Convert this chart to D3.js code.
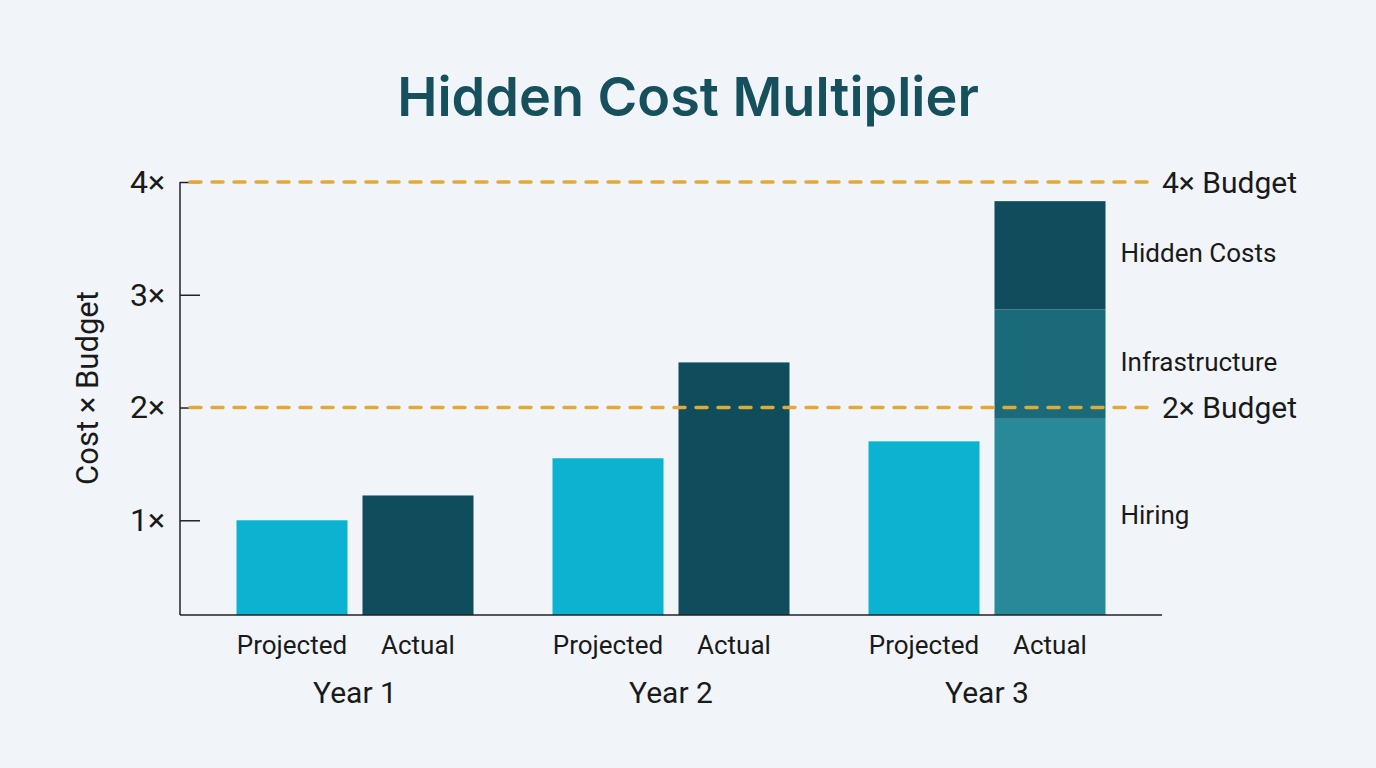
<!DOCTYPE html>
<html>
<head>
<meta charset="utf-8">
<script src="https://cdn.jsdelivr.net/npm/d3@7"></script>
<style>
  body { margin: 0; background: #f1f5f9; }
  svg { display: block; font-family: Roboto, "Noto Sans", sans-serif; }
</style>
</head>
<body>
<svg width="1376" height="768"></svg>
<script>
const years = ["Year 1", "Year 2", "Year 3"]
const kinds = ["Projected", "Actual"]
const projected = [1.0, 1.55, 1.7]
const actual = [1.22, 2.4, null]
// year 3 actual is split up
const parts = ["Hiring", "Infrastructure", "Hidden Costs"]
const partValues = [1.9, 0.97, 0.96]
const refLines = [2, 4]
const refLabels = ["2× Budget", "4× Budget"]
const yTicks = [1, 2, 3, 4]

const svg = d3.select("svg")

const x = d3.scaleBand().domain(years).range([197, 1145])
const xIn = d3.scaleBand().domain(kinds).range([39.5, 276.5]).paddingInner(0.119)
const y = d3.scaleLinear().domain([0.16, 4]).range([615, 182])
const y0 = y.domain()[0]

const colors = {Projected: "#0bb3d1", Actual: "#0f4c5c"}
const partColors = ["#288a99", "#1b6a79", "#0f4c5c"]

svg.append("text").attr("x", 688).attr("y", 116).attr("text-anchor", "middle")
   .attr("font-family", "Inter, Lato, sans-serif").attr("font-weight", 600)
   .attr("font-size", 54).attr("fill", "#16505c").text("Hidden Cost Multiplier")

// bars
const rows = []
years.forEach(function(yr, i){
    rows.push({year: yr, kind: "Projected", v: projected[i]})
    if (actual[i] != null) rows.push({year: yr, kind: "Actual", v: actual[i]})
})
svg.append("g").selectAll("rect").data(rows).enter().append("rect")
   .attr("x", d => x(d.year) + xIn(d.kind))
   .attr("width", xIn.bandwidth())
   .attr("y", d => y(d.v))
   .attr("height", d => y(y0) - y(d.v))
   .attr("fill", d => colors[d.kind])

const tops = d3.cumsum(partValues)
const stack = parts.map((p, i) => ({name: p, lo: i ? tops[i - 1] : y0, hi: tops[i], c: partColors[i]}))
const bx = x("Year 3") + xIn("Actual")
svg.append("g").selectAll("rect").data(stack).enter().append("rect")
   .attr("x", bx).attr("width", xIn.bandwidth())
   .attr("y", d => y(d.hi)).attr("height", d => y(d.lo) - y(d.hi))
   .attr("fill", d => d.c)
svg.append("g").selectAll("text").data(stack).enter().append("text")
   .attr("x", bx + xIn.bandwidth() + 15).attr("y", d => (y(d.lo) + y(d.hi)) / 2 - 2)
   .attr("dy", "0.35em").attr("font-size", 26).attr("fill", "#1a1a1a")
   .text(d => d.name)

// axes
svg.append("line").attr("x1", 180).attr("x2", 180).attr("y1", y(4)).attr("y2", y(y0))
   .attr("stroke", "#222").attr("stroke-width", 1.5)
svg.append("line").attr("x1", 180).attr("x2", 1162).attr("y1", y(y0)).attr("y2", y(y0))
   .attr("stroke", "#222").attr("stroke-width", 1.5)

const yax = svg.append("g").attr("transform", "translate(180,0)")
   .call(d3.axisRight(y).tickValues(yTicks).tickSize(20).tickFormat(d => d + "×"))
yax.select(".domain").remove()
yax.selectAll("line").attr("stroke", "#222").attr("stroke-width", 1.5)
yax.selectAll("text").attr("x", -15).attr("text-anchor", "end")
   .attr("font-size", 32).attr("fill", "#1a1a1a").attr("font-family", "Roboto, sans-serif")

svg.append("text").attr("transform", "translate(98,388) rotate(-90)")
   .attr("text-anchor", "middle").attr("font-size", 31).attr("fill", "#1a1a1a")
   .text("Cost × Budget")

// reference lines
svg.append("g").selectAll("line").data(refLines).enter().append("line")
   .attr("x1", 190).attr("x2", 1152).attr("y1", d => y(d)).attr("y2", d => y(d))
   .attr("stroke", "#e3a935").attr("stroke-width", 3.5)
   .attr("stroke-dasharray", "11 11").attr("stroke-linecap", "round")
svg.append("g").selectAll("text").data(refLines).enter().append("text")
   .attr("x", 1162).attr("y", d => y(d)).attr("dy", "0.35em")
   .attr("font-size", 30).attr("fill", "#1a1a1a")
   .text((d, i) => refLabels[i])

// x labels
const xl = svg.append("g")
years.forEach(function(yr){
    kinds.forEach(function(k){
        xl.append("text").attr("x", x(yr) + xIn(k) + xIn.bandwidth() / 2).attr("y", 654)
          .attr("text-anchor", "middle").attr("font-size", 26).attr("fill", "#1a1a1a").text(k)
    })
    xl.append("text").attr("x", x(yr) + x.bandwidth() / 2).attr("y", 703)
      .attr("text-anchor", "middle").attr("font-size", 30).attr("fill", "#1a1a1a").text(yr)
})
</script>
</body>
</html>
